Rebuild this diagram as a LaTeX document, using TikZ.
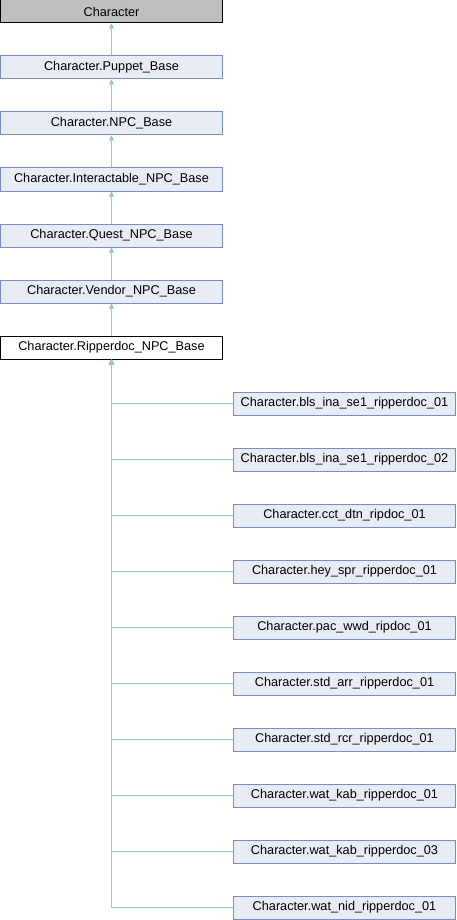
\documentclass[tikz,border=0pt]{standalone}
\usepackage{fontspec}
\setmainfont{Liberation Sans}
\usetikzlibrary{arrows.meta}

\definecolor{boxfill}{HTML}{E8ECF5}
\definecolor{boxline}{HTML}{7A8DC5}
\definecolor{edgeblue}{HTML}{8CC4EA}
\definecolor{topfill}{HTML}{BFBFBF}

\begin{document}
\begin{tikzpicture}[x=1pt,y=-1pt,
  cls/.style={draw=boxline, fill=boxfill, line width=1pt, minimum width=222pt,
    minimum height=23pt, inner sep=0pt, font=\fontsize{12.7}{14}\selectfont},
  inh/.style={draw=edgeblue, line width=1pt, -{Triangle[length=5pt,width=5pt]}}]
  \useasboundingbox (0,0) rectangle (456,920);
  % base chain
  \node[cls, draw=black, fill=topfill] (char) at (111.5,11.5) {Character};
  \node[cls] (puppet) at (111.5,67.5) {Character.Puppet\_Base};
  \node[cls] (npc) at (111.5,123.5) {Character.NPC\_Base};
  \node[cls] (inter) at (111.5,179.5) {Character.Interactable\_NPC\_Base};
  \node[cls] (quest) at (111.5,235.5) {Character.Quest\_NPC\_Base};
  \node[cls] (vendor) at (111.5,291.5) {Character.Vendor\_NPC\_Base};
  \node[cls, draw=black, fill=white] (rip) at (111.5,347.5) {Character.Ripperdoc\_NPC\_Base};
  \draw[inh] (puppet) -- (char);
  \draw[inh] (npc) -- (puppet);
  \draw[inh] (inter) -- (npc);
  \draw[inh] (quest) -- (inter);
  \draw[inh] (vendor) -- (quest);
  \draw[inh] (rip) -- (vendor);
  % derived ripperdocs
  \node[cls] (bls1) at (344.5,403.5) {Character.bls\_ina\_se1\_ripperdoc\_01};
  \node[cls] (bls2) at (344.5,459.5) {Character.bls\_ina\_se1\_ripperdoc\_02};
  \node[cls] (cct) at (344.5,515.5) {Character.cct\_dtn\_ripdoc\_01};
  \node[cls] (hey) at (344.5,571.5) {Character.hey\_spr\_ripperdoc\_01};
  \node[cls] (pac) at (344.5,627.5) {Character.pac\_wwd\_ripdoc\_01};
  \node[cls] (arr) at (344.5,683.5) {Character.std\_arr\_ripperdoc\_01};
  \node[cls] (rcr) at (344.5,739.5) {Character.std\_rcr\_ripperdoc\_01};
  \node[cls] (kab1) at (344.5,795.5) {Character.wat\_kab\_ripperdoc\_01};
  \node[cls] (kab3) at (344.5,851.5) {Character.wat\_kab\_ripperdoc\_03};
  \node[cls] (nid) at (344.5,907.5) {Character.wat\_nid\_ripperdoc\_01};
  \draw[inh] (bls1.west) -| (rip.south);
  \draw[inh] (bls2.west) -| (rip.south);
  \draw[inh] (cct.west) -| (rip.south);
  \draw[inh] (hey.west) -| (rip.south);
  \draw[inh] (pac.west) -| (rip.south);
  \draw[inh] (arr.west) -| (rip.south);
  \draw[inh] (rcr.west) -| (rip.south);
  \draw[inh] (kab1.west) -| (rip.south);
  \draw[inh] (kab3.west) -| (rip.south);
  \draw[inh] (nid.west) -| (rip.south);
\end{tikzpicture}
\end{document}
